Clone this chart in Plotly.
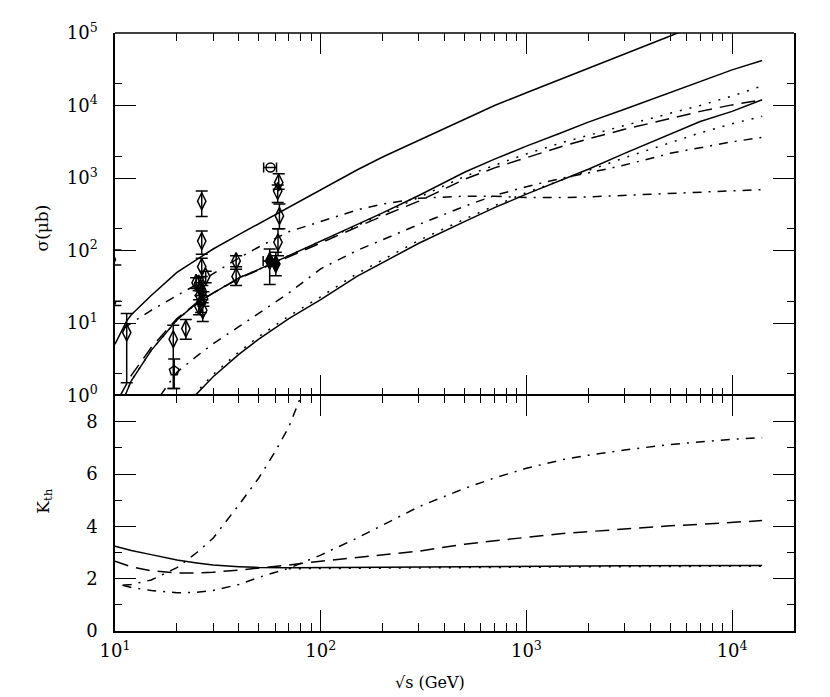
import plotly.graph_objs as go

# --- upper panel: cross sections sigma (mub) vs sqrt(s) (GeV) ---
top_solid_s = [10, 11.4, 12, 15, 20, 25, 30, 40, 50, 70, 100, 150, 200, 300, 500, 700, 1000, 1500, 2000, 3000, 5000, 7000]
top_solid = [5.1, 10.7, 13, 24, 50, 76, 105, 166, 234, 400, 690, 1290, 1950, 3300, 6500, 10000, 15000, 23500, 32500, 51000, 91000, 135000]

mid_solid_s = [11.2, 12, 15, 20, 25, 30, 40, 50, 70, 100, 150, 200, 300, 500, 700, 1000, 1500, 2000, 3000, 5000, 7000, 10000, 14000]
mid_solid = [1.0, 1.6, 4.2, 11, 19, 26, 42, 55, 85, 135, 224, 330, 575, 1200, 1820, 2750, 4270, 5900, 8900, 15100, 21400, 31000, 41700]
upper_dotted = [1.0, 1.6, 4.2, 11, 19, 26, 42, 55, 85, 135, 220, 320, 540, 1050, 1500, 2150, 3100, 3900, 5300, 7800, 10000, 13500, 18600]

dashed_s = [10.6, 12, 15, 20, 25, 30, 40, 50, 70, 100, 150, 200, 300, 500, 700, 1000, 1500, 2000, 3000, 5000, 7000, 10000, 14000]
dashed = [1.0, 1.9, 4.6, 11.5, 19, 26, 41, 54, 83, 130, 210, 300, 480, 960, 1380, 1900, 2750, 3470, 4700, 6600, 8300, 10200, 12000]

low_solid_s = [24.5, 30, 40, 50, 70, 100, 150, 200, 300, 500, 700, 1000, 1500, 2000, 3000, 5000, 7000, 10000, 14000]
low_solid = [1.0, 1.82, 3.7, 6.0, 11.5, 21, 44, 68, 126, 250, 390, 600, 950, 1320, 2190, 4070, 6030, 8300, 12000]

low_dotted_s = [24, 30, 40, 50, 70, 100, 150, 200, 300, 500, 700, 1000, 1500, 2000, 3000, 5000, 7000, 10000, 14000]
low_dotted = [1.0, 1.95, 4.0, 6.5, 12.5, 23, 48, 75, 138, 270, 415, 630, 960, 1270, 1900, 3100, 4200, 5600, 7100]

mid_dashdot_s = [16.6, 20, 25, 30, 40, 50, 70, 100, 150, 200, 300, 500, 700, 1000, 1500, 2000, 3000, 5000, 7000, 10000, 14000]
mid_dashdot = [1.0, 2.1, 3.5, 5.2, 8.9, 13.8, 26, 56, 100, 141, 229, 407, 575, 760, 1000, 1175, 1510, 2190, 2630, 3160, 3630]

flat_dashdot_s = [11, 12, 15, 20, 25, 30, 40, 50, 70, 100, 150, 200, 300, 500, 700, 1000, 1500, 2000, 3000, 5000, 7000, 10000, 14000]
flat_dashdot = [8.5, 10, 15, 24, 34, 48, 79, 112, 182, 251, 363, 437, 525, 562, 562, 537, 537, 550, 575, 617, 646, 660, 692]

# data points
diamond_s = [11.4, 19.2, 22.1, 26.4, 26.4, 26.4, 27.6, 24.8, 25.5, 26.0, 26.6, 25.8, 26.9, 26.2, 25.6, 26.7, 38.8, 38.8, 62.5, 61.8, 63.0, 62.0]
diamond_y = [7.4, 6.0, 8.4, 480, 135, 60, 44, 36, 35, 30, 27, 24, 22, 19, 17, 15, 72, 44, 870, 660, 300, 130]
diamond_hi = [13.5, 9.3, 11.2, 660, 186, 78, 52, 42, 42, 36, 33, 30, 27, 24, 21, 19, 85, 55, 1150, 800, 440, 200]
diamond_lo = [1.5, 1.25, 6.0, 295, 89, 44, 36, 30, 28, 24, 21, 18, 17, 14, 13, 10.5, 60, 33, 700, 460, 200, 85]

filled_s = [56.5, 60.5]
filled_y = [72, 65]
filled_hi = [105, 95]
filled_lo = [34, 45]
filled_s_lo = [52.5, 60.5]
filled_s_hi = [61, 60.5]

circle_s = [57]
circle_y = [1400]
circle_s_lo = [52.8]
circle_s_hi = [61]

pent_s = [19.4]
pent_y = [2.2]
pent_hi = [3.2]
pent_lo = [1.25]

edge_s = [9.6, 9.6]
edge_y = [75, 19]
edge_hi = [102, 20]
edge_lo = [63, 17.5]

# --- lower panel: K_th ---
k_solid_s = [10, 12, 15, 20, 25, 30, 40, 50, 70, 100, 200, 500, 1000, 3000, 14000]
k_solid = [3.24, 3.08, 2.92, 2.71, 2.60, 2.52, 2.46, 2.43, 2.42, 2.42, 2.44, 2.46, 2.48, 2.49, 2.50]

k_dotted_s = [70, 100, 200, 500, 1000, 3000, 14000]
k_dotted = [2.38, 2.39, 2.41, 2.43, 2.44, 2.46, 2.48]

k_dashed_s = [10, 12, 15, 20, 25, 30, 40, 50, 70, 100, 150, 200, 300, 500, 700, 1000, 1500, 2000, 3000, 5000, 7000, 10000, 14000]
k_dashed = [2.67, 2.45, 2.30, 2.22, 2.22, 2.25, 2.33, 2.40, 2.52, 2.67, 2.80, 2.90, 3.05, 3.32, 3.46, 3.58, 3.73, 3.80, 3.91, 4.02, 4.08, 4.16, 4.22]

k_steep_s = [10.9, 12, 15, 20, 25, 30, 40, 50, 60, 70, 80, 90]
k_steep = [1.75, 1.78, 1.95, 2.42, 3.0, 3.55, 4.82, 5.85, 6.85, 7.80, 8.95, 9.9]

k_dashdot_s = [10.9, 12, 15, 20, 25, 30, 40, 50, 70, 100, 150, 200, 300, 500, 700, 1000, 1500, 2000, 3000, 5000, 7000, 10000, 14000]
k_dashdot = [1.75, 1.66, 1.55, 1.46, 1.48, 1.55, 1.78, 2.05, 2.40, 2.90, 3.55, 4.05, 4.75, 5.45, 5.85, 6.22, 6.55, 6.72, 6.92, 7.13, 7.24, 7.33, 7.39]

x_major = [10, 100, 1000, 10000]
x_major_text = ["10<sup>1</sup>", "10<sup>2</sup>", "10<sup>3</sup>", "10<sup>4</sup>"]
x_minor = [m * d for d in [10, 100, 1000, 10000] for m in range(2, 10)]
y_major = [1, 10, 100, 1000, 10000, 100000]
y_major_text = ["10<sup>%d</sup>" % i for i in range(6)]
y_minor = [2, 20, 200, 2000, 20000]

DASHDOT = "9px,7px,2px,7px"
DASHED = "14px,8px"
DOTTED = "2px,8px"


def line(x, y, dash, ax, ay):
    return go.Scatter(x=x, y=y, mode="lines", xaxis=ax, yaxis=ay,
                      line=dict(color="black", width=1.5, dash=dash), hoverinfo="skip")


def points(x, y, symbol, size, hi=None, lo=None, xhi=None, xlo=None, cap=6):
    trace = go.Scatter(x=x, y=y, mode="markers", xaxis="x", yaxis="y",
                       marker=dict(symbol=symbol, size=size, color="black",
                                   line=dict(color="black", width=1.5)))
    if hi is not None:
        trace.error_y = dict(type="data", symmetric=False,
                             array=[h - v for h, v in zip(hi, y)],
                             arrayminus=[v - l for l, v in zip(lo, y)],
                             color="black", thickness=1.5, width=cap)
    if xhi is not None:
        trace.error_x = dict(type="data", symmetric=False,
                             array=[h - v for h, v in zip(xhi, x)],
                             arrayminus=[v - l for l, v in zip(xlo, x)],
                             color="black", thickness=1.5, width=5)
    return trace


data = [
    line(top_solid_s, top_solid, "solid", "x", "y"),
    line(mid_solid_s, mid_solid, "solid", "x", "y"),
    line(mid_solid_s, upper_dotted, DOTTED, "x", "y"),
    line(dashed_s, dashed, DASHED, "x", "y"),
    line(low_solid_s, low_solid, "solid", "x", "y"),
    line(low_dotted_s, low_dotted, DOTTED, "x", "y"),
    line(mid_dashdot_s, mid_dashdot, DASHDOT, "x", "y"),
    line(flat_dashdot_s, flat_dashdot, DASHDOT, "x", "y"),
    points(diamond_s, diamond_y, "diamond-tall-open", 12, diamond_hi, diamond_lo),
    points(filled_s, filled_y, "diamond-tall", 12, filled_hi, filled_lo, filled_s_hi, filled_s_lo),
    points(circle_s, circle_y, "circle-open", 9, xhi=circle_s_hi, xlo=circle_s_lo),
    points(pent_s, pent_y, "pentagon-open", 10, pent_hi, pent_lo),
    # edge points just left of the frame: only the right half of their caps shows
    points(edge_s, edge_y, "diamond-tall-open", 12, edge_hi, edge_lo, cap=10),
    line(k_solid_s, k_solid, "solid", "x2", "y2"),
    line(k_dotted_s, k_dotted, DOTTED, "x2", "y2"),
    line(k_dashed_s, k_dashed, DASHED, "x2", "y2"),
    line(k_steep_s, k_steep, DASHDOT, "x2", "y2"),
    line(k_dashdot_s, k_dashdot, DASHDOT, "x2", "y2"),
]

font = dict(family="DejaVu Serif", size=18, color="black")
split = 0.3937

axis_common = dict(showline=True, linecolor="black", linewidth=1.5, mirror="ticks",
                   ticks="inside", tickcolor="black", tickwidth=1.2, ticklen=21,
                   showgrid=False, zeroline=False, tickfont=font)

xaxis_common = dict(axis_common, type="log", range=[1, 4.301],
                    tickvals=x_major, ticktext=x_major_text,
                    minor=dict(tickvals=x_minor, ticks="inside", ticklen=8,
                               tickcolor="black", tickwidth=1.2, showgrid=False))

# the page body adds 8px around the figure, so the figure is 8px smaller
layout = go.Layout(
    width=822, height=689,
    margin=dict(l=107, r=36, t=21, b=66),
    paper_bgcolor="white", plot_bgcolor="white",
    showlegend=False,
    # upper x axis: ticks only, the divider line comes from the lower panel
    xaxis=dict(xaxis_common, anchor="y", domain=[0, 1], showticklabels=False,
               showline=False, matches="x2"),
    yaxis=dict(axis_common, type="log", range=[0, 5], domain=[split, 1], anchor="x",
               tickvals=y_major, ticktext=y_major_text, ticklabelstandoff=12,
               minor=dict(tickvals=y_minor, ticks="inside", ticklen=7,
                          tickcolor="black", tickwidth=1.2, showgrid=False)),
    xaxis2=dict(xaxis_common, anchor="y2", domain=[0, 1], ticklabelstandoff=3),
    yaxis2=dict(axis_common, range=[0, 9], domain=[0, split], anchor="x2",
                tickvals=[0, 2, 4, 6, 8], ticklabelstandoff=12,
                minor=dict(tickvals=[1, 3, 5, 7], ticks="inside", ticklen=7,
                           tickcolor="black", tickwidth=1.2, showgrid=False)),
    shapes=[
        dict(type="line", xref="paper", yref="paper", x0=0, x1=1, y0=1, y1=1,
             line=dict(color="black", width=1.5)),
    ],
    annotations=[
        dict(text="σ(μb)", xref="paper", yref="paper", x=-0.125, y=0.716,
             textangle=-90, showarrow=False, font=dict(font, size=17)),
        dict(text="K<sub>th</sub>", xref="paper", yref="paper", x=-0.125, y=0.193,
             textangle=-90, showarrow=False, font=dict(font, size=17)),
        dict(text="√s (GeV)", xref="paper", yref="paper", x=0.464, y=-0.106,
             showarrow=False, font=dict(font, size=16)),
    ],
)

fig = go.Figure(data=data, layout=layout)
fig.write_html("out.html")
